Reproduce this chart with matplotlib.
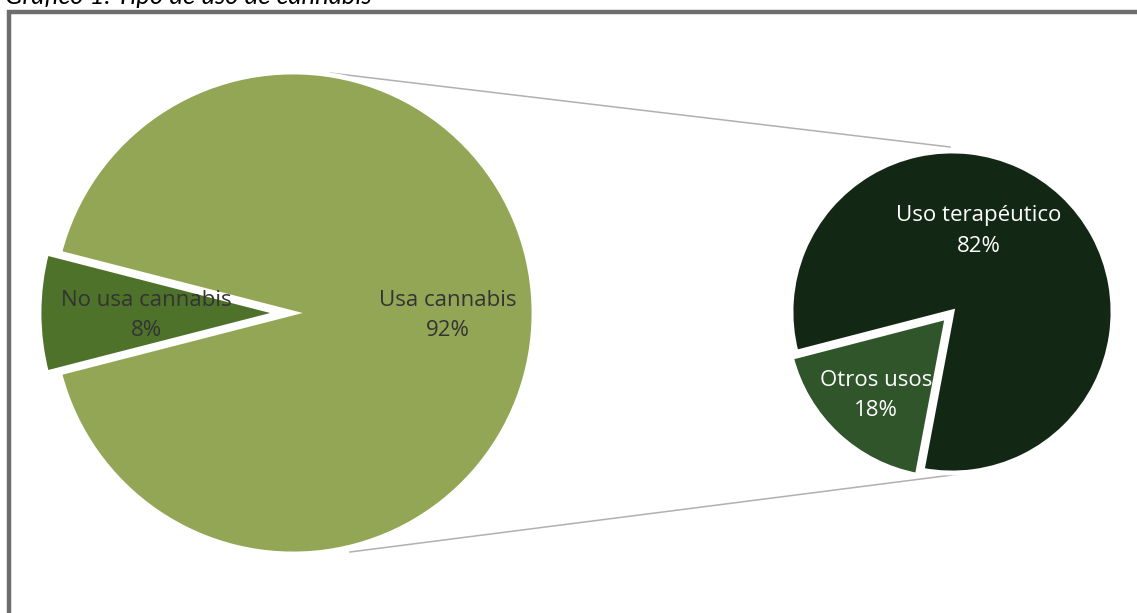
import matplotlib.pyplot as plt
import matplotlib as mpl

# data
main_labels = ['No usa cannabis', 'Usa cannabis']
main_values = [8, 92]
main_colors = ['#4e7229', '#93a655']

sub_labels = ['Otros usos', 'Uso terapéutico']
sub_values = [18, 82]
sub_colors = ['#30552b', '#132814']

title = 'Gráfico 1. Tipo de uso de cannabis'

W, H = 1137, 613
plt.rcParams['font.family'] = ['Open Sans', 'DejaVu Sans']

fig = plt.figure(figsize=(W / 100, H / 100), dpi=100)
ax = fig.add_axes([0, 0, 1, 1])
ax.set_xlim(0, W)
ax.set_ylim(0, H)
ax.set_aspect('equal')
ax.axis('off')


def img_y(y):
    return H - y


# frame (only top and left visible)
ax.plot([8.5, 8.5, W + 5], [img_y(H + 5), img_y(12), img_y(12)],
        color='#6d6d6d', lw=3.2, solid_joinstyle='miter', zorder=1)

# connector lines between the two pies
ax.plot([330, 950], [img_y(73), img_y(147)], color='#b0b0b0', lw=1.1, zorder=1)
ax.plot([350, 960], [img_y(552), img_y(474)], color='#b0b0b0', lw=1.1, zorder=1)

wedge_kw = dict(edgecolor='white', linewidth=3.5)

# main pie (explode is in data units here, i.e. pixels)
big_c, big_r = (293, img_y(313)), 241
ax.pie(main_values, colors=main_colors, center=big_c, radius=big_r,
       startangle=180 - main_values[0] * 3.6 / 2, counterclock=True,
       explode=[13, 0], wedgeprops=wedge_kw, frame=True)

# secondary pie
small_c, small_r = (952, img_y(312)), 161
ax.pie(sub_values, colors=sub_colors, center=small_c, radius=small_r,
       startangle=194.5, counterclock=True,
       explode=[7, 0], wedgeprops=wedge_kw, frame=True)

ax.set_xlim(0, W)
ax.set_ylim(0, H)
ax.axis('off')

# data labels
lab_fs = 16
labels = [
    (main_labels[0], main_values[0], 146, 300, '#333333'),
    (main_labels[1], main_values[1], 448, 300, '#333333'),
    (sub_labels[1], sub_values[1], 979, 215, 'white'),
    (sub_labels[0], sub_values[0], 876, 380, 'white'),
]
for name, val, x, y, col in labels:
    ax.text(x, img_y(y), name, ha='center', va='center', fontsize=lab_fs, color=col)
    ax.text(x, img_y(y + 31), f'{val}%', ha='center', va='center', fontsize=lab_fs, color=col)

# title, cut off at the top of the image
ax.text(5, img_y(3.5), title, ha='left', va='baseline', fontsize=18.5,
        style='italic', family=['Lato', 'DejaVu Sans'], color='black', clip_on=False)

fig.savefig('out.png', dpi=100)
